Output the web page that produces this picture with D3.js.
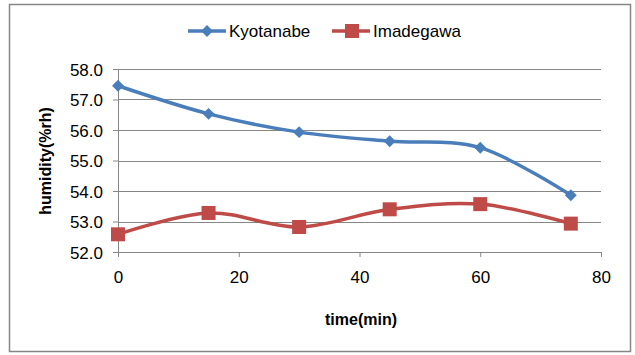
<!DOCTYPE html>
<html>
<head>
<meta charset="utf-8">
<script src="https://cdn.jsdelivr.net/npm/d3@7"></script>
<style>
  body { margin: 0; background: #fff; }
  text { font-family: "Liberation Sans", Arial, sans-serif; }
</style>
</head>
<body>
<div id="chart"></div>
<script>
// chart data
const times = [0, 15, 30, 45, 60, 75];
const kyotanabe = [57.45, 56.53, 55.93, 55.63, 55.42, 53.86];
const imadegawa = [52.58, 53.28, 52.82, 53.40, 53.57, 52.93];
const seriesNames = ["Kyotanabe", "Imadegawa"];
const xTicks = [0, 20, 40, 60, 80];
const yTicks = [52, 53, 54, 55, 56, 57, 58];

const width = 635, height = 355;
const margin = { top: 69, right: 34, bottom: 103, left: 118 };
const innerW = 601 - margin.left, innerH = 252 - margin.top;

const svg = d3.select("#chart").append("svg")
    .attr("width", width)
    .attr("height", height);

// outer chart border
svg.append("rect")
    .attr("x", 9.5).attr("y", 4.5)
    .attr("width", 621).attr("height", 347)
    .attr("fill", "#fff")
    .attr("stroke", "#868686")
    .attr("stroke-width", 1.5);

const g = svg.append("g")
    .attr("transform", "translate(" + margin.left + "," + margin.top + ")");

// scales
const x = d3.scaleLinear().domain([0, 80]).range([0, innerW]);
const y = d3.scaleLinear().domain([52, 58]).range([innerH, 0]);

// horizontal gridlines
g.selectAll(".grid")
    .data(yTicks.slice(1))
    .enter().append("line")
    .attr("class", "grid")
    .attr("x1", 0).attr("x2", innerW)
    .attr("y1", d => Math.round(y(d)) + 0.5)
    .attr("y2", d => Math.round(y(d)) + 0.5)
    .attr("stroke", "#868686");

// axes
const xAxis = d3.axisBottom(x).tickValues(xTicks).tickSize(5).tickSizeOuter(0).tickPadding(14);
const yAxis = d3.axisLeft(y).tickValues(yTicks).tickSize(5).tickSizeOuter(0).tickPadding(10)
    .tickFormat(d3.format(".1f"));

g.append("g")
    .attr("class", "x-axis")
    .attr("transform", "translate(0," + innerH + ")")
    .call(xAxis);

g.append("g")
    .attr("class", "y-axis")
    .call(yAxis);

g.selectAll(".x-axis path, .y-axis path, .x-axis line, .y-axis line")
    .attr("stroke", "#868686");
g.selectAll(".x-axis text, .y-axis text")
    .attr("fill", "#000")
    .style("font-size", "17px")
    .style("font-family", "'Liberation Sans', Arial, sans-serif");
g.select(".y-axis").selectAll("text").attr("dy", "0.36em");

// axis titles
svg.append("text")
    .attr("x", 361).attr("y", 325)
    .attr("text-anchor", "middle")
    .style("font-size", "16px")
    .style("font-weight", "bold")
    .text("time(min)");

svg.append("text")
    .attr("transform", "translate(51,161) rotate(-90)")
    .attr("text-anchor", "middle")
    .style("font-size", "16px")
    .style("font-weight", "bold")
    .text("humidity(%rh)");

// lines
const colors = ["#4a7ebb", "#be4b48"];
const allSeries = [kyotanabe, imadegawa];

const line = d3.line()
    .x((d, i) => x(times[i]))
    .y(d => y(d))
    .curve(d3.curveCardinal.tension(0));

allSeries.forEach(function (values, s) {
    g.append("path")
        .datum(values)
        .attr("d", line)
        .attr("fill", "none")
        .attr("stroke", colors[s])
        .attr("stroke-width", 3.5);
});

const diamond = d3.symbol().type(d3.symbolDiamond2).size(90);

g.selectAll(".kpt")
    .data(kyotanabe)
    .enter().append("path")
    .attr("class", "kpt")
    .attr("d", diamond)
    .attr("transform", (d, i) => "translate(" + x(times[i]) + "," + y(d) + ")")
    .attr("fill", colors[0]);

g.selectAll(".ipt")
    .data(imadegawa)
    .enter().append("rect")
    .attr("class", "ipt")
    .attr("x", (d, i) => x(times[i]) - 7)
    .attr("y", d => y(d) - 7)
    .attr("width", 14).attr("height", 14)
    .attr("fill", colors[1]);

// legend
const legendX = [188, 332];
const legend = svg.selectAll(".legend")
    .data(seriesNames)
    .enter().append("g")
    .attr("class", "legend")
    .attr("transform", (d, i) => "translate(" + legendX[i] + ",31)");

legend.append("line")
    .attr("x1", 0).attr("x2", 38)
    .attr("stroke", (d, i) => colors[i])
    .attr("stroke-width", 3.5);

legend.filter((d, i) => i === 0).append("path")
    .attr("d", diamond)
    .attr("transform", "translate(19,0)")
    .attr("fill", colors[0]);

legend.filter((d, i) => i === 1).append("rect")
    .attr("x", 13).attr("y", -7)
    .attr("width", 14).attr("height", 14)
    .attr("fill", colors[1]);

legend.append("text")
    .attr("x", 41).attr("y", 0)
    .attr("dy", "0.35em")
    .style("font-size", "17px")
    .text(d => d);
</script>
</body>
</html>
